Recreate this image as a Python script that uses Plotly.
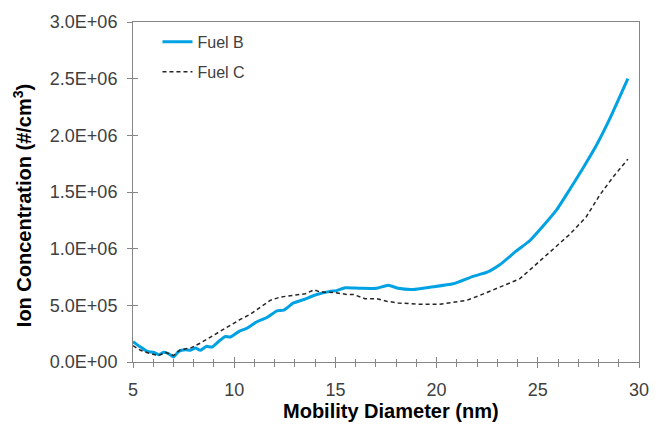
import plotly.graph_objects as go

# ---- data ----
fuel_b_d = [5.0, 5.37, 5.70, 6.03, 6.27, 6.52, 6.77, 7.01, 7.26, 7.59, 7.84, 8.08, 8.33, 8.62,
            8.90, 9.23, 9.56, 9.81, 10.22, 10.63, 11.12, 11.62, 12.11, 12.44, 12.93, 13.42,
            14.08, 14.74, 15.07, 15.48, 16.22, 17.04, 17.61, 18.11, 18.85, 19.67, 20.82,
            21.80, 22.47, 23.12, 23.94, 24.60, 25.26, 25.92, 26.57, 27.23, 27.89, 28.54, 29.45]
fuel_b_v = [1.80e5, 1.32e5, 0.94e5, 0.85e5, 0.65e5, 0.85e5, 0.72e5, 0.45e5, 0.94e5, 1.09e5,
            1.03e5, 1.23e5, 1.03e5, 1.38e5, 1.32e5, 1.81e5, 2.25e5, 2.20e5, 2.68e5, 2.98e5,
            3.55e5, 3.93e5, 4.51e5, 4.57e5, 5.21e5, 5.50e5, 5.96e5, 6.23e5, 6.30e5, 6.55e5,
            6.50e5, 6.50e5, 6.78e5, 6.50e5, 6.40e5, 6.60e5, 6.90e5, 7.56e5, 7.90e5, 8.58e5,
            9.80e5, 1.07e6, 1.20e6, 1.34e6, 1.52e6, 1.71e6, 1.91e6, 2.14e6, 2.50e6]

fuel_c_d = [5.0, 5.37, 5.86, 6.27, 6.60, 7.01, 7.34, 7.84, 8.33, 8.82, 9.31, 9.81, 10.30,
            10.79, 11.29, 11.78, 12.27, 12.93, 13.51, 13.95, 14.25, 14.90, 15.56, 15.89,
            16.46, 17.04, 17.53, 18.10, 19.18, 20.16, 21.48, 22.14, 23.12, 24.10, 24.93,
            25.75, 26.57, 27.39, 28.05, 28.71, 29.45]
fuel_c_v = [1.44e5, 1.03e5, 0.74e5, 0.57e5, 0.85e5, 0.57e5, 1.09e5, 1.23e5, 1.67e5, 2.19e5,
            2.77e5, 3.27e5, 3.76e5, 4.20e5, 4.80e5, 5.44e5, 5.73e5, 5.88e5, 6.02e5, 6.37e5,
            6.17e5, 6.14e5, 5.96e5, 5.96e5, 5.59e5, 5.59e5, 5.36e5, 5.21e5, 5.09e5, 5.09e5,
            5.44e5, 5.88e5, 6.60e5, 7.33e5, 8.64e5, 9.94e5, 1.125e6, 1.28e6, 1.47e6, 1.63e6,
            1.79e6]

y_tick_vals = [0, 5e5, 1e6, 1.5e6, 2e6, 2.5e6, 3e6]
y_tick_text = ["0.0E+00", "5.0E+05", "1.0E+06", "1.5E+06", "2.0E+06", "2.5E+06", "3.0E+06"]
x_tick_vals = [5, 10, 15, 20, 25, 30]

FONT = "Liberation Sans, Arial, sans-serif"
AXC = "#868686"
TXT = "#404040"

fig = go.Figure()
fig.add_trace(go.Scatter(x=fuel_b_d, y=fuel_b_v, mode="lines", name="Fuel B",
                         line=dict(color="#00A2E3", width=3, shape="spline", smoothing=0.5),
                         legendgroup="b"))
fig.add_trace(go.Scatter(x=fuel_c_d, y=fuel_c_v, mode="lines", name="Fuel C",
                         line=dict(color="#262626", width=1.5, dash="4px,3px"),
                         legendgroup="c"))
# invisible trace on overlay axes so they are drawn
fig.add_trace(go.Scatter(x=[None], y=[None], xaxis="x2", yaxis="y2", showlegend=False,
                         hoverinfo="skip"))

fig.update_layout(
    width=664, height=427,
    margin=dict(l=132.5, r=25, t=18, b=64.5),
    paper_bgcolor="white", plot_bgcolor="white",
    font=dict(family=FONT, size=18, color=TXT),
    showlegend=True,
    legend=dict(x=(157 - 132.5) / (639 - 132.5), y=1 - (21 - 18) / 344.5,
                xanchor="left", yanchor="top", bgcolor="rgba(0,0,0,0)",
                font=dict(size=16, color=TXT), tracegroupgap=6,
                itemwidth=30),
    xaxis=dict(range=[5, 30], tickvals=x_tick_vals, ticks="outside", ticklen=5,
               tickcolor=AXC, tickwidth=1, showline=True, linecolor=AXC, linewidth=1,
               mirror=True, showgrid=False, zeroline=False, ticklabelstandoff=6,
               tickfont=dict(size=18, color=TXT),
               minor=dict(dtick=1, ticks="outside", ticklen=3.5, tickcolor=AXC, showgrid=False)),
    yaxis=dict(range=[0, 3e6], tickvals=y_tick_vals, ticktext=y_tick_text, ticks="outside",
               ticklen=5, tickcolor=AXC, tickwidth=1, showline=True, linecolor=AXC,
               linewidth=1, mirror=True, showgrid=False, zeroline=False,
               ticklabelstandoff=6, tickfont=dict(size=18, color=TXT)),
    xaxis2=dict(overlaying="x", range=[5, 30], tickvals=x_tick_vals, ticks="inside",
                ticklen=5, tickcolor=AXC, showticklabels=False, showline=False,
                showgrid=False, zeroline=False, side="bottom",
                minor=dict(dtick=1, ticks="inside", ticklen=3.5, tickcolor=AXC, showgrid=False)),
    yaxis2=dict(overlaying="y", range=[0, 3e6], tickvals=y_tick_vals, ticks="inside",
                ticklen=5, tickcolor=AXC, showticklabels=False, showline=False,
                showgrid=False, zeroline=False, side="left"),
    annotations=[
        dict(text="<b>Mobility Diameter (nm)</b>", xref="paper", yref="paper",
             x=(391 - 132.5) / (639 - 132.5), y=-(412 - 362.5) / 344.5,
             xanchor="center", yanchor="middle", showarrow=False,
             font=dict(size=20, color="#000000", family=FONT)),
        dict(text="<b>Ion Concentration (#/cm<sup>3</sup>)</b>", xref="paper", yref="paper",
             x=-(132.5 - 22) / (639 - 132.5), y=1 - (204 - 18) / 344.5,
             xanchor="center", yanchor="middle", showarrow=False, textangle=-90,
             font=dict(size=20, color="#000000", family=FONT)),
    ],
)

fig.write_html("out.html")
